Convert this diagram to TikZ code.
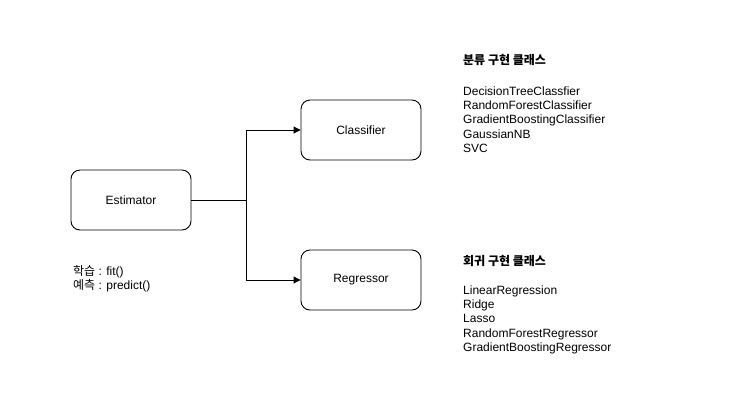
\documentclass[tikz,border=0pt]{standalone}
\usepackage{fontspec}
\setmainfont{Liberation Sans}
\newfontfamily\kofont{Noto Sans CJK KR}
\usetikzlibrary{arrows.meta}
\tikzset{
  box/.style={draw, line width=0.9bp, rounded corners=9bp, minimum width=120bp, minimum height=60bp, inner sep=0pt, font=\fontsize{12bp}{14bp}\selectfont},
  conn/.style={line width=0.9bp},
  arr/.style={conn, -{Triangle[length=7bp,width=7bp]}},
  listtxt/.style={anchor=north west, align=left, inner sep=0pt, font=\fontsize{12bp}{14.2bp}\selectfont},
  titletxt/.style={anchor=west, inner sep=0pt, font=\kofont\bfseries\fontsize{12bp}{14bp}\selectfont},
}
\begin{document}
\begin{tikzpicture}[x=1bp,y=-1bp]
\useasboundingbox (0,0) rectangle (751,402);
\node[box] (est) at (131,200) {Estimator};
\node[box] (cls) at (361,130) {Classifier};
\node[box] (reg) at (361,280) {Regressor};
\coordinate (j) at (246,200);
\draw[conn] (est.east) -- (j);
\draw[arr] (j) |- (cls.west);
\draw[arr] (j) |- (reg.west);
\node[titletxt] (t1) at (463,60) {분류 구현 클래스};
\node[listtxt] (l1) at (463,86.5) {DecisionTreeClassfier\\RandomForestClassifier\\GradientBoostingClassifier\\GaussianNB\\SVC};
\node[titletxt] (t2) at (463,261) {회귀 구현 클래스};
\node[listtxt] (l2) at (463,285.5) {LinearRegression\\Ridge\\Lasso\\RandomForestRegressor\\GradientBoostingRegressor};
\node[listtxt] (m) at (73,265.5) {{\kofont 학습} : fit()\\{\kofont 예측} : predict()};
\end{tikzpicture}
\end{document}
